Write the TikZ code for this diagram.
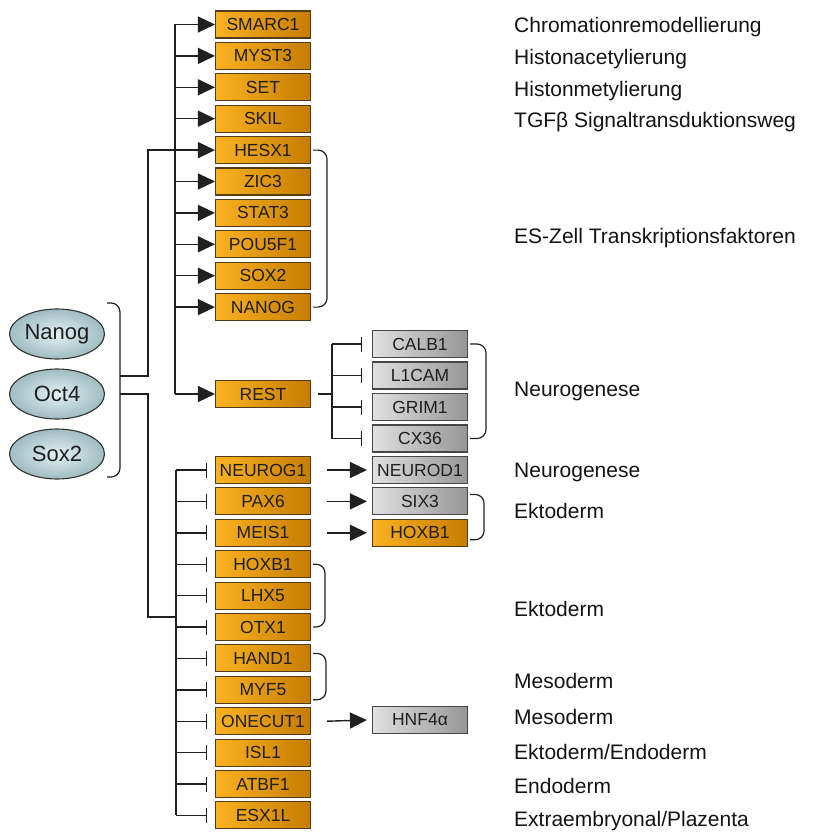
\documentclass[tikz,border=0pt]{standalone}
\usepackage{fontspec}
\setmainfont{Liberation Sans}
\usetikzlibrary{arrows.meta,shapes.geometric}
\definecolor{orL}{RGB}{250,178,34}
\definecolor{orR}{RGB}{198,124,0}
\definecolor{orB}{RGB}{82,60,28}
\definecolor{grL}{RGB}{224,224,224}
\definecolor{grR}{RGB}{150,150,150}
\definecolor{grB}{RGB}{70,70,70}
\definecolor{elI}{RGB}{228,240,242}
\definecolor{elO}{RGB}{158,188,194}
\definecolor{ln}{RGB}{32,32,32}
\begin{document}
\begin{tikzpicture}[x=1pt,y=-1pt,
 obox/.style={draw=orB, line width=1.1pt, left color=orL, right color=orR, minimum width=95pt, minimum height=27pt, inner sep=0pt, font=\fontsize{17.5}{20}\selectfont, text=black!88},
 gbox/.style={obox, draw=grB, left color=grL, right color=grR},
 ell/.style={ellipse, draw=black!80, line width=1.1pt, inner color=elI, outer color=elO, minimum width=95pt, minimum height=50pt, inner sep=0pt, font=\fontsize{22}{24}\selectfont, text=black!88},
 lab/.style={anchor=base west, inner sep=0pt, font=\fontsize{21}{24}\selectfont, text=black!92},
 conn/.style={draw=ln, line width=1.4pt},
 act/.style={conn, -{Triangle[length=17pt,width=16pt]}},
 inh/.style={conn, -{Bar[width=15pt]}},
 brk/.style={draw=ln, line width=1.2pt, rounded corners=9pt}]
\useasboundingbox (0,0) rectangle (814,832);

% ellipses
\node[ell] (nanog) at (57,334) {Nanog};
\node[ell] (oct4) at (57,394) {Oct4};
\node[ell] (sox2) at (57,454) {Sox2};

% upper column
\node[obox] (smarc1) at (263,24.5) {SMARC1};
\node[obox] (myst3) at (263,55.9) {MYST3};
\node[obox] (set) at (263,87.3) {SET};
\node[obox] (skil) at (263,118.7) {SKIL};
\node[obox] (hesx1) at (263,150.1) {HESX1};
\node[obox] (zic3) at (263,181.5) {ZIC3};
\node[obox] (stat3) at (263,212.9) {STAT3};
\node[obox] (pou5f1) at (263,244.3) {POU5F1};
\node[obox] (sox2b) at (263,275.7) {SOX2};
\node[obox] (nanogb) at (263,307.1) {NANOG};
\node[obox] (rest) at (263,394) {REST};

% REST targets
\node[gbox] (calb1) at (420,344) {CALB1};
\node[gbox] (l1cam) at (420,375.5) {L1CAM};
\node[gbox] (grim1) at (420,407) {GRIM1};
\node[gbox] (cx36) at (420,438.5) {CX36};

% lower column
\node[obox] (neurog1) at (263,470) {NEUROG1};
\node[obox] (pax6) at (263,501.4) {PAX6};
\node[obox] (meis1) at (263,532.8) {MEIS1};
\node[obox] (hoxb1) at (263,564.2) {HOXB1};
\node[obox] (lhx5) at (263,595.6) {LHX5};
\node[obox] (otx1) at (263,627) {OTX1};
\node[obox] (hand1) at (263,658.4) {HAND1};
\node[obox] (myf5) at (263,689.8) {MYF5};
\node[obox] (onecut1) at (263,721.2) {ONECUT1};
\node[obox] (isl1) at (263,752.6) {ISL1};
\node[obox] (atbf1) at (263,784) {ATBF1};
\node[obox] (esx1l) at (263,815.4) {ESX1L};

% right targets
\node[gbox] (neurod1) at (420,470) {NEUROD1};
\node[gbox] (six3) at (420,501.4) {SIX3};
\node[obox] (hoxb1r) at (420,532.8) {HOXB1};
\node[gbox] (hnf4a) at (420,720) {HNF4α};

% labels
\node[lab] (l1) at (514,32.5) {Chromationremodellierung};
\node[lab] (l2) at (514,64.5) {Histonacetylierung};
\node[lab] (l3) at (514,96.5) {Histonmetylierung};
\node[lab] (l4) at (514,128) {TGFβ Signaltransduktionsweg};
\node[lab] (l5) at (514,243.5) {ES-Zell Transkriptionsfaktoren};
\node[lab] (l6) at (514,396.5) {Neurogenese};
\node[lab] (l7) at (514,477.5) {Neurogenese};
\node[lab] (l8) at (514,518) {Ektoderm};
\node[lab] (l9) at (514,616) {Ektoderm};
\node[lab] (l10) at (514,688) {Mesoderm};
\node[lab] (l11) at (514,724) {Mesoderm};
\node[lab] (l12) at (514,759) {Ektoderm/Endoderm};
\node[lab] (l13) at (514,793) {Endoderm};
\node[lab] (l14) at (514,826) {Extraembryonal/Plazenta};

% coordinates
\coordinate (lbT) at (107,303);
\coordinate (lbB) at (107,477);
\coordinate (bU) at (120,376);
\coordinate (bL) at (120,394);
\coordinate (v1) at (148,0);
\coordinate (v2) at (175,0);
\coordinate (v3) at (176,0);
\coordinate (v4) at (332,0);
\coordinate (lowJ) at (176,617);

% bracket around ellipses
\draw[brk] (lbT) -- (120,303) -- (120,477) -- (lbB);

% upper branch
\draw[act] (bU) -- (bU -| v1) |- (hesx1.west);
\draw[conn] (smarc1.west -| v2) -- (rest.west -| v2);
\foreach \n in {smarc1,myst3,set,skil,zic3,stat3,pou5f1,sox2b,nanogb,rest}
  \draw[act] (\n.west -| v2) -- (\n.west);

% lower branch
\draw[conn] (bL) -- (bL -| v1) |- (lowJ);
\draw[conn] (neurog1.west -| v3) -- (esx1l.west -| v3);
\foreach \n in {neurog1,pax6,meis1,hoxb1,lhx5,otx1,hand1,myf5,onecut1,isl1,atbf1,esx1l}
  \draw[inh] (\n.west -| v3) -- ([xshift=-8pt]\n.west);

% REST inhibition
\draw[conn] ([xshift=7pt]rest.east) -- (rest.east -| v4);
\draw[conn] (calb1.west -| v4) -- (cx36.west -| v4);
\foreach \n in {calb1,l1cam,grim1,cx36}
  \draw[inh] (\n.west -| v4) -- ([xshift=-10pt]\n.west);

% activation arrows right
\draw[act] ([xshift=16pt]neurog1.east) -- ([xshift=-5pt]neurod1.west);
\draw[act] ([xshift=16pt]pax6.east) -- ([xshift=-5pt]six3.west);
\draw[act] ([xshift=16pt]meis1.east) -- ([xshift=-5pt]hoxb1r.west);
\draw[act] ([xshift=16pt]onecut1.east) -- ([xshift=-5pt]hnf4a.west);

% right brackets
\draw[brk] ([xshift=2pt]hesx1.east) -- ++(14,0) |- ([xshift=2pt]nanogb.east);
\draw[brk] ([xshift=2pt]calb1.east) -- ++(16,0) |- ([xshift=2pt]cx36.east);
\draw[brk] ([xshift=2pt]otx1.east |- hoxb1.east) -- ++(12,0) |- ([xshift=2pt]otx1.east);
\draw[brk] ([xshift=2pt,yshift=5pt]hand1.east) -- ++(13,0) |- ([xshift=2pt,yshift=-10pt]myf5.east);
\draw[brk] ([xshift=2pt,yshift=7pt]six3.east) -- ++(14,0) |- ([xshift=2pt,yshift=-7pt]hoxb1r.east);
\end{tikzpicture}
\end{document}
